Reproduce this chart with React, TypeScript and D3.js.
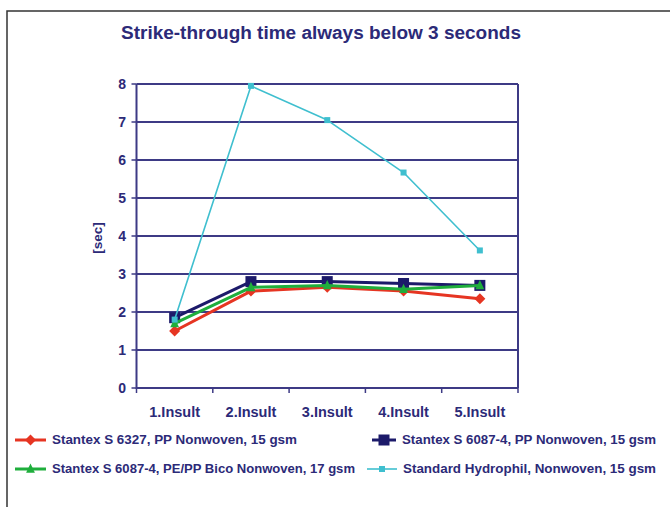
import React from "react";
import * as d3 from "d3";

const categories = ["1.Insult", "2.Insult", "3.Insult", "4.Insult", "5.Insult"];
const yTicks = [0, 1, 2, 3, 4, 5, 6, 7, 8];

const redValues = [1.5, 2.55, 2.65, 2.55, 2.35];
const navyValues = [1.85, 2.8, 2.8, 2.75, 2.7];
const greenValues = [1.7, 2.65, 2.7, 2.6, 2.7];
const cyanValues = [1.8, 7.95, 7.05, 5.67, 3.62];

const seriesNames = [
  "Stantex S 6327, PP Nonwoven, 15 gsm",
  "Stantex S 6087-4, PP Nonwoven, 15 gsm",
  "Stantex S 6087-4, PE/PP Bico Nonwoven, 17 gsm",
  "Standard Hydrophil, Nonwoven, 15 gsm",
];

const TEXT = "#2c2a78";
const GRID = "#3d3a85";

type Series = { name: string; values: number[]; color: string; marker: string; width: number; size: number };

const series: Series[] = [
  { name: seriesNames[0], values: redValues, color: "#e63522", marker: "diamond", width: 3, size: 11 },
  { name: seriesNames[1], values: navyValues, color: "#1c1a6a", marker: "square", width: 3, size: 11 },
  { name: seriesNames[2], values: greenValues, color: "#1fae3c", marker: "triangle", width: 3, size: 11 },
  { name: seriesNames[3], values: cyanValues, color: "#3fbfcf", marker: "smallsquare", width: 1.6, size: 6 },
];

function Marker({ type, x, y, color, size }: { type: string; x: number; y: number; color: string; size: number }) {
  const s = size / 2;
  if (type === "diamond") {
    return <path d={`M${x},${y - s}L${x + s},${y}L${x},${y + s}L${x - s},${y}Z`} fill={color} />;
  }
  if (type === "triangle") {
    return <path d={`M${x},${y - s}L${x + s * 0.8},${y + s * 0.7}L${x - s * 0.8},${y + s * 0.7}Z`} fill={color} />;
  }
  return <rect x={x - s} y={y - s} width={size} height={size} fill={color} />;
}

export default function App() {
  const W = 670;
  const H = 507;
  const left = 136.5;
  const right = 518;
  const top = 84;
  const bottom = 388;

  const x = d3.scaleBand<string>().domain(categories).range([left, right]).padding(0);
  const y = d3.scaleLinear().domain([0, 8]).range([bottom, top]);
  const cx = (c: string) => (x(c) as number) + x.bandwidth() / 2;

  const line = d3
    .line<number>()
    .x((_, i) => cx(categories[i]))
    .y((d) => y(d));

  const legendItems = [
    { s: series[0], lx: 15, tx: 52, ty: 440, tw: 245 },
    { s: series[1], lx: 372, tx: 402, ty: 440, tw: 254 },
    { s: series[2], lx: 15, tx: 52, ty: 469, tw: 303 },
    { s: series[3], lx: 367, tx: 403, ty: 469, tw: 253 },
  ];

  const boundaries = categories.map((c) => x(c) as number).concat([right]);

  return (
    <svg width={W} height={H} style={{ position: "absolute", left: 0, top: 0, background: "#fff" }} fontFamily="'Liberation Sans', Arial, sans-serif">
      <rect x={0} y={0} width={W} height={H} fill="#fff" />
      <rect x={7} y={11} width={W + 20} height={H + 20} fill="#fff" stroke="#333" strokeWidth={1.5} />

      <text x={321} y={39} textAnchor="middle" fontSize={18} fontWeight="bold" fill={TEXT} textLength={400} lengthAdjust="spacingAndGlyphs">
        Strike-through time always below 3 seconds
      </text>

      {yTicks.map((t) => (
        <g key={t}>
          {t > 0 && <line x1={left} x2={right} y1={y(t)} y2={y(t)} stroke={GRID} strokeWidth={2} />}
          <line x1={left - 5} x2={left} y1={y(t)} y2={y(t)} stroke={GRID} strokeWidth={1.5} />
          <text x={126} y={y(t)} dy="0.35em" textAnchor="end" fontSize={14} fontWeight="bold" fill={TEXT}>
            {t}
          </text>
        </g>
      ))}
      <line x1={left} x2={left} y1={top} y2={bottom + 1} stroke={GRID} strokeWidth={2} />
      <line x1={right} x2={right} y1={top} y2={bottom} stroke={GRID} strokeWidth={2} />
      <line x1={left} x2={right} y1={bottom} y2={bottom} stroke={GRID} strokeWidth={2} />
      {boundaries.map((b, i) => (
        <line key={i} x1={b} x2={b} y1={bottom} y2={bottom + 5} stroke={GRID} strokeWidth={1.5} />
      ))}
      {categories.map((c) => (
        <text key={c} x={cx(c)} y={417} textAnchor="middle" fontSize={14.5} fontWeight="bold" fill={TEXT}>
          {c}
        </text>
      ))}
      <text transform={`translate(102,238) rotate(-90)`} textAnchor="middle" fontSize={13.5} fontWeight="bold" fill={TEXT}>
        [sec]
      </text>

      {series.map((s) => (
        <g key={s.name}>
          <path d={line(s.values) || ""} fill="none" stroke={s.color} strokeWidth={s.width} strokeLinejoin="round" />
          {s.values.map((v, i) => (
            <Marker key={i} type={s.marker} x={cx(categories[i])} y={y(v)} color={s.color} size={s.size} />
          ))}
        </g>
      ))}

      {legendItems.map((it, i) => (
        <g key={i}>
          <line x1={it.lx} x2={it.tx - 6} y1={it.ty} y2={it.ty} stroke={it.s.color} strokeWidth={it.s.width} />
          <Marker type={it.s.marker} x={(it.lx + it.tx - 6) / 2} y={it.ty} color={it.s.color} size={it.s.size} />
          <text x={it.tx} y={it.ty} dy="0.35em" fontSize={12} fontWeight="bold" fill={TEXT} textLength={it.tw} lengthAdjust="spacingAndGlyphs">
            {it.s.name}
          </text>
        </g>
      ))}
    </svg>
  );
}
